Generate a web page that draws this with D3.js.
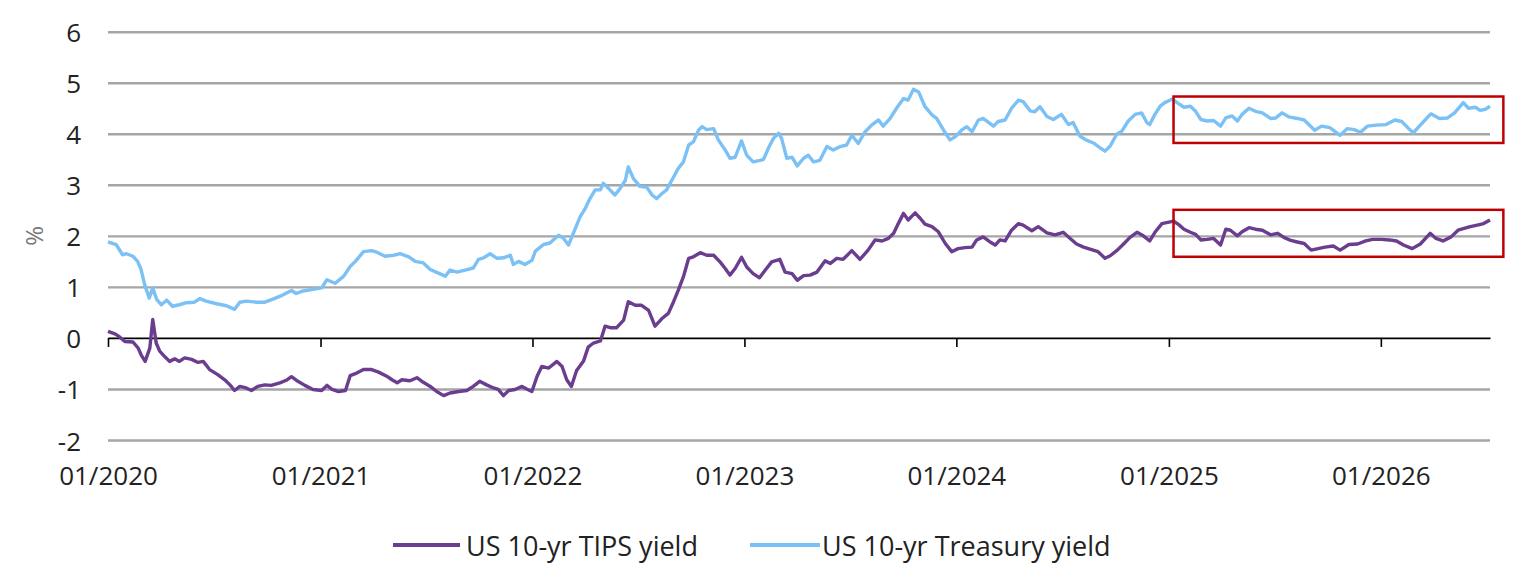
<!DOCTYPE html>
<html><head><meta charset="utf-8">
<script src="https://cdn.jsdelivr.net/npm/d3@7"></script>
<style>
body{margin:0;background:#fff;}
svg text{font-family:"Open Sans","Noto Sans",sans-serif;}
</style>
</head><body>
<svg id="chart" width="1532" height="583"></svg>
<script>
// ---------------- DATA ----------------
const seriesNames = ["US 10-yr TIPS yield", "US 10-yr Treasury yield"];
const yTicks = [-2, -1, 0, 1, 2, 3, 4, 5, 6];
const xTickDates = ["2020-01-01","2021-01-01","2022-01-01","2023-01-01","2024-01-01","2025-01-01","2026-01-01"];
const xTickLabels = ["01/2020","01/2021","01/2022","01/2023","01/2024","01/2025","01/2026"];
const xDomain = ["2020-01-01", "2026-07-08"];

const tsyDates = ["2020-01-01","2020-01-15","2020-01-26","2020-02-02","2020-02-13","2020-02-21","2020-02-27","2020-03-04","2020-03-12","2020-03-18","2020-03-25","2020-04-02","2020-04-11","2020-04-21","2020-05-03","2020-05-15","2020-05-29","2020-06-07","2020-06-18","2020-07-06","2020-07-23","2020-08-06","2020-08-15","2020-08-26","2020-09-13","2020-09-27","2020-10-11","2020-10-26","2020-11-12","2020-11-20","2020-12-02","2020-12-19",
"2021-01-03","2021-01-12","2021-01-26","2021-02-10","2021-02-21","2021-03-02","2021-03-16","2021-03-30","2021-04-08","2021-04-22","2021-05-07","2021-05-18","2021-06-02","2021-06-13","2021-06-27","2021-07-09","2021-07-23","2021-08-04","2021-08-12","2021-08-24","2021-09-07","2021-09-21","2021-09-30","2021-10-09","2021-10-20","2021-11-01","2021-11-12","2021-11-24","2021-11-29","2021-12-08","2021-12-19","2021-12-31",
"2022-01-06","2022-01-20","2022-01-31","2022-02-15","2022-02-23","2022-03-04","2022-03-16","2022-03-24","2022-04-02","2022-04-10","2022-04-19","2022-04-28","2022-05-03","2022-05-12","2022-05-23","2022-06-01","2022-06-10","2022-06-15","2022-06-24","2022-07-05","2022-07-17","2022-07-26","2022-08-03","2022-08-12","2022-08-20","2022-08-29","2022-09-09","2022-09-18","2022-09-27","2022-10-05","2022-10-14","2022-10-20","2022-10-28","2022-11-09","2022-11-17","2022-11-29","2022-12-07","2022-12-16","2022-12-27",
"2023-01-05","2023-01-16","2023-01-28","2023-02-03","2023-02-11","2023-02-20","2023-03-01","2023-03-06","2023-03-15","2023-03-24","2023-04-02","2023-04-13","2023-04-21","2023-04-30","2023-05-11","2023-05-23","2023-06-03","2023-06-15","2023-06-26","2023-07-05","2023-07-16","2023-07-28","2023-08-08","2023-08-20","2023-08-28","2023-09-09","2023-09-20","2023-10-02","2023-10-10","2023-10-19","2023-10-28","2023-11-08","2023-11-20","2023-11-28","2023-12-10","2023-12-21","2023-12-30",
"2024-01-10","2024-01-19","2024-01-28","2024-02-08","2024-02-16","2024-03-05","2024-03-13","2024-03-25","2024-04-05","2024-04-17","2024-04-25","2024-05-07","2024-05-15","2024-05-24","2024-06-05","2024-06-16","2024-06-30","2024-07-12","2024-07-20","2024-08-01","2024-08-13","2024-08-24","2024-09-04","2024-09-13","2024-09-22","2024-10-03","2024-10-12","2024-10-23","2024-11-04","2024-11-15","2024-11-24","2024-11-29","2024-12-08","2024-12-17","2024-12-25",
"2025-01-07","2025-01-15","2025-01-27","2025-02-07","2025-02-16","2025-02-25","2025-03-08","2025-03-19","2025-03-31","2025-04-09","2025-04-20","2025-04-29","2025-05-07","2025-05-19","2025-05-30","2025-06-11","2025-06-25","2025-07-04","2025-07-15","2025-07-27","2025-08-10","2025-08-22","2025-09-09","2025-09-21","2025-10-05","2025-10-23","2025-11-04","2025-11-16","2025-11-27","2025-12-09","2025-12-24",
"2026-01-10","2026-01-25","2026-02-06","2026-02-18","2026-02-26","2026-03-10","2026-03-28","2026-04-12","2026-04-26","2026-05-08","2026-05-23","2026-06-01","2026-06-13","2026-06-21","2026-06-30","2026-07-08"];
const tsyValues = [1.88,1.83,1.63,1.65,1.60,1.50,1.34,1.05,0.78,0.98,0.75,0.65,0.74,0.62,0.65,0.69,0.70,0.77,0.72,0.67,0.63,0.56,0.70,0.72,0.70,0.70,0.76,0.83,0.93,0.87,0.92,0.95,
0.98,1.14,1.07,1.21,1.40,1.50,1.69,1.71,1.68,1.60,1.62,1.65,1.59,1.50,1.47,1.34,1.27,1.21,1.33,1.29,1.33,1.37,1.54,1.57,1.65,1.56,1.57,1.62,1.44,1.50,1.44,1.52,
1.70,1.83,1.86,2.01,1.96,1.82,2.15,2.37,2.54,2.73,2.90,2.90,3.03,2.93,2.80,2.93,3.09,3.35,3.12,2.97,2.95,2.80,2.73,2.83,2.90,3.09,3.32,3.45,3.78,3.84,4.07,4.14,4.08,4.10,3.88,3.68,3.52,3.54,3.86,
3.58,3.45,3.48,3.50,3.71,3.91,4.01,3.91,3.52,3.54,3.37,3.52,3.58,3.45,3.48,3.75,3.68,3.75,3.78,3.97,3.81,4.04,4.17,4.27,4.15,4.30,4.50,4.69,4.66,4.87,4.82,4.53,4.37,4.30,4.07,3.88,3.94,
4.07,4.14,4.04,4.27,4.30,4.15,4.24,4.27,4.50,4.66,4.63,4.45,4.43,4.53,4.34,4.28,4.38,4.18,4.22,3.95,3.87,3.82,3.73,3.66,3.76,3.99,4.05,4.25,4.38,4.41,4.22,4.18,4.38,4.54,4.61,
4.68,4.61,4.52,4.54,4.44,4.28,4.25,4.26,4.15,4.31,4.35,4.25,4.38,4.50,4.44,4.41,4.30,4.31,4.41,4.33,4.30,4.27,4.07,4.15,4.12,3.97,4.10,4.08,4.03,4.15,4.17,
4.18,4.27,4.24,4.10,4.02,4.17,4.39,4.30,4.31,4.41,4.61,4.50,4.52,4.46,4.48,4.54];

const tipsDates = ["2020-01-01","2020-01-13","2020-01-21","2020-01-30","2020-02-13","2020-02-22","2020-02-27","2020-03-05","2020-03-13","2020-03-18","2020-03-24","2020-03-30","2020-04-08","2020-04-16","2020-04-25","2020-05-03","2020-05-12","2020-05-24","2020-06-04","2020-06-13","2020-06-24","2020-07-08","2020-07-20","2020-07-29","2020-08-06","2020-08-15","2020-08-26","2020-09-04","2020-09-15","2020-09-27","2020-10-08","2020-10-23","2020-11-03","2020-11-12","2020-11-23","2020-12-05","2020-12-19",
"2021-01-03","2021-01-12","2021-01-21","2021-02-01","2021-02-13","2021-02-21","2021-03-02","2021-03-16","2021-03-30","2021-04-11","2021-04-25","2021-05-04","2021-05-13","2021-05-21","2021-06-04","2021-06-16","2021-06-27","2021-07-09","2021-07-20","2021-08-01","2021-08-12","2021-08-27","2021-09-10","2021-09-21","2021-10-02","2021-10-14","2021-10-26","2021-11-03","2021-11-12","2021-11-21","2021-12-02","2021-12-14","2021-12-22","2021-12-31",
"2022-01-09","2022-01-17","2022-01-29","2022-02-12","2022-02-21","2022-03-01","2022-03-09","2022-03-18","2022-03-30","2022-04-07","2022-04-16","2022-04-28","2022-05-06","2022-05-15","2022-05-26","2022-06-07","2022-06-15","2022-06-27","2022-07-08","2022-07-20","2022-07-31","2022-08-12","2022-08-23","2022-09-01","2022-09-09","2022-09-18","2022-09-27","2022-10-05","2022-10-17","2022-10-28","2022-11-09","2022-11-20","2022-11-29","2022-12-07","2022-12-16","2022-12-27",
"2023-01-05","2023-01-16","2023-01-27","2023-02-06","2023-02-17","2023-03-03","2023-03-12","2023-03-24","2023-04-02","2023-04-13","2023-04-24","2023-05-06","2023-05-20","2023-05-29","2023-06-09","2023-06-20","2023-07-05","2023-07-19","2023-08-02","2023-08-14","2023-08-26","2023-09-06","2023-09-15","2023-09-23","2023-10-02","2023-10-10","2023-10-22","2023-10-31","2023-11-08","2023-11-20","2023-12-01","2023-12-13","2023-12-24",
"2024-01-04","2024-01-16","2024-01-28","2024-02-05","2024-02-16","2024-02-28","2024-03-08","2024-03-16","2024-03-25","2024-04-05","2024-04-17","2024-04-25","2024-05-10","2024-05-21","2024-06-05","2024-06-19","2024-07-03","2024-07-15","2024-07-26","2024-08-07","2024-08-18","2024-09-01","2024-09-13","2024-09-22","2024-10-03","2024-10-15","2024-10-26","2024-11-07","2024-11-18","2024-11-29","2024-12-08","2024-12-20","2024-12-28",
"2025-01-09","2025-01-18","2025-01-27","2025-02-07","2025-02-16","2025-02-25","2025-03-08","2025-03-19","2025-03-31","2025-04-09","2025-04-17","2025-04-29","2025-05-07","2025-05-19","2025-05-30","2025-06-11","2025-06-25","2025-07-07","2025-07-18","2025-07-30","2025-08-10","2025-08-22","2025-09-03","2025-09-15","2025-09-27","2025-10-11","2025-10-23","2025-11-07","2025-11-22","2025-12-06","2025-12-18",
"2026-01-02","2026-01-16","2026-01-28","2026-02-09","2026-02-24","2026-03-10","2026-03-27","2026-04-06","2026-04-18","2026-05-02","2026-05-14","2026-05-23","2026-06-04","2026-06-16","2026-06-27","2026-07-08"];
const tipsValues = [0.13,0.08,0.02,-0.07,-0.08,-0.20,-0.33,-0.46,-0.20,0.36,-0.10,-0.26,-0.37,-0.46,-0.41,-0.46,-0.39,-0.42,-0.48,-0.46,-0.62,-0.72,-0.82,-0.92,-1.03,-0.95,-0.98,-1.03,-0.95,-0.92,-0.93,-0.88,-0.83,-0.76,-0.85,-0.93,-1.01,
-1.03,-0.93,-1.01,-1.05,-1.03,-0.74,-0.70,-0.62,-0.62,-0.67,-0.75,-0.82,-0.88,-0.82,-0.84,-0.78,-0.87,-0.95,-1.05,-1.13,-1.08,-1.05,-1.03,-0.95,-0.85,-0.92,-0.98,-1.01,-1.13,-1.03,-1.01,-0.95,-1.00,-1.05,
-0.75,-0.56,-0.59,-0.46,-0.56,-0.82,-0.95,-0.64,-0.45,-0.18,-0.10,-0.06,0.23,0.20,0.20,0.35,0.71,0.64,0.64,0.54,0.23,0.38,0.48,0.71,0.93,1.20,1.56,1.59,1.67,1.62,1.62,1.49,1.36,1.23,1.36,1.58,
1.39,1.26,1.18,1.33,1.49,1.54,1.29,1.26,1.13,1.22,1.23,1.29,1.51,1.46,1.56,1.54,1.71,1.54,1.72,1.92,1.90,1.95,2.05,2.24,2.44,2.31,2.45,2.34,2.23,2.18,2.08,1.85,1.69,
1.75,1.77,1.78,1.92,1.98,1.88,1.82,1.92,1.90,2.11,2.24,2.21,2.10,2.18,2.06,2.02,2.07,1.95,1.84,1.78,1.74,1.69,1.56,1.61,1.71,1.84,1.97,2.07,2.00,1.90,2.07,2.24,2.26,
2.29,2.22,2.13,2.07,2.03,1.92,1.93,1.95,1.82,2.13,2.11,2.00,2.08,2.16,2.13,2.11,2.02,2.05,1.97,1.91,1.88,1.85,1.72,1.75,1.78,1.80,1.72,1.83,1.84,1.90,1.93,
1.93,1.92,1.90,1.82,1.75,1.84,2.05,1.95,1.90,1.98,2.11,2.14,2.18,2.21,2.24,2.31];

// highlighted period (red boxes): date span and value ranges for each series
const highlightPeriod = ["2025-01-09", "2026-07-31"];
const highlightRanges = [[1.59, 2.51], [3.82, 4.73]];

// ---------------- CHART ----------------
const parse = d3.timeParse("%Y-%m-%d");
const colors = ["#6b3d8e", "#7cc1f6"];
const M = {left: 108, right: 1490, top: 31.7, bottom: 440};
const FS = 26;

const svg = d3.select("#chart");
const x = d3.scaleTime().domain(xDomain.map(parse)).range([M.left, M.right]);
const y = d3.scaleLinear().domain([-2, 6]).range([M.bottom, M.top]);

// gridlines (except zero, drawn as axis)
svg.append("g")
  .attr("transform", `translate(${M.left},0)`)
  .call(d3.axisLeft(y).tickValues(yTicks.filter(v => v !== 0)).tickSize(-(M.right - M.left)).tickFormat(""))
  .call(g => g.select(".domain").remove())
  .call(g => g.selectAll(".tick line").attr("stroke", "#a6a6a6").attr("stroke-width", 2.4));

// y tick labels
svg.append("g")
  .attr("transform", `translate(${M.left},0)`)
  .call(d3.axisLeft(y).tickValues(yTicks).tickSize(0).tickPadding(27).tickFormat(d => String(d)))
  .call(g => g.select(".domain").remove())
  .call(g => g.selectAll("text").attr("fill", "#222").attr("font-size", FS).attr("dy", null)
    .attr("dominant-baseline", "central"));

// y axis title
svg.append("text")
  .attr("transform", `translate(33,${y(2)}) rotate(-90)`)
  .attr("text-anchor", "middle").attr("dominant-baseline", "central")
  .attr("fill", "#777").attr("font-size", FS - 2).text("%");

// zero axis with year ticks
svg.append("g")
  .attr("transform", `translate(0,${y(0)})`)
  .call(d3.axisBottom(x).tickValues(xTickDates.map(parse)).tickSizeInner(9).tickSizeOuter(0).tickFormat(""))
  .call(g => g.select(".domain").attr("stroke", "#000").attr("stroke-width", 1.6))
  .call(g => g.selectAll(".tick line").attr("stroke", "#000").attr("stroke-width", 1.6));

// x tick labels at bottom
svg.append("g")
  .attr("transform", `translate(0,${M.bottom})`)
  .call(d3.axisBottom(x).tickValues(xTickDates.map(parse)).tickSize(0)
    .tickFormat((d, i) => xTickLabels[i]))
  .call(g => g.select(".domain").remove())
  .call(g => g.selectAll("text").attr("fill", "#222").attr("font-size", FS)
    .attr("y", 35).attr("dy", null).attr("dominant-baseline", "central"));

// lines
const line = d3.line().x(d => x(d[0])).y(d => y(d[1]));
const series = [
  tipsDates.map((d, i) => [parse(d), tipsValues[i]]),
  tsyDates.map((d, i) => [parse(d), tsyValues[i]])
];
series.forEach((s, i) => {
  svg.append("path").datum(s)
    .attr("fill", "none").attr("stroke", colors[i]).attr("stroke-width", 3.4)
    .attr("stroke-linejoin", "round").attr("d", line);
});

// red highlight boxes
highlightRanges.forEach(r => {
  const x0 = x(parse(highlightPeriod[0])), x1 = x(parse(highlightPeriod[1]));
  svg.append("rect")
    .attr("x", x0).attr("y", y(r[1]))
    .attr("width", x1 - x0).attr("height", y(r[0]) - y(r[1]))
    .attr("fill", "none").attr("stroke", "#bf0000").attr("stroke-width", 2.5);
});

// legend
const legendItems = [{x0: 393, x1: 460, tx: 466}, {x0: 750, x1: 820, tx: 822}];
const ly = 545;
seriesNames.forEach((name, i) => {
  const L = legendItems[i];
  svg.append("line").attr("x1", L.x0).attr("x2", L.x1).attr("y1", ly).attr("y2", ly)
    .attr("stroke", colors[i]).attr("stroke-width", 4);
  svg.append("text").attr("x", L.tx).attr("y", ly).attr("dominant-baseline", "central")
    .attr("fill", "#222").attr("font-size", FS + 1).text(name);
});
</script>
</body></html>
